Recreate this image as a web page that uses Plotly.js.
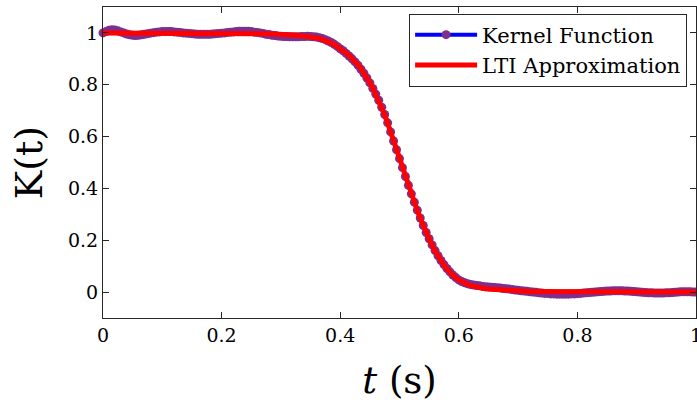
<!DOCTYPE html>
<html>
<head>
<meta charset="utf-8">
<script src="https://cdn.plot.ly/plotly-3.0.1.min.js"></script>
<style>html,body{margin:0;padding:0;background:#fff;}#chart{width:697px;height:407px;}</style>
</head>
<body>
<div id="chart"></div>
<script>
// time samples (s)
const timeS = [0,0.005,0.01,0.015,0.02,0.025,0.03,0.035,0.04,0.045,0.05,0.055,0.06,0.065,0.07,0.075,0.08,0.085,0.09,0.095,
0.1,0.105,0.11,0.115,0.12,0.125,0.13,0.135,0.14,0.145,0.15,0.155,0.16,0.165,0.17,0.175,0.18,0.185,0.19,0.195,
0.2,0.205,0.21,0.215,0.22,0.225,0.23,0.235,0.24,0.245,0.25,0.255,0.26,0.265,0.27,0.275,0.28,0.285,0.29,0.295,
0.3,0.305,0.31,0.315,0.32,0.325,0.33,0.335,0.34,0.345,0.35,0.355,0.36,0.365,0.37,0.375,0.38,0.385,0.39,0.395,
0.4,0.405,0.41,0.415,0.42,0.425,0.43,0.435,0.44,0.445,0.45,0.455,0.46,0.465,0.47,0.475,0.48,0.485,0.49,0.495,
0.5,0.505,0.51,0.515,0.52,0.525,0.53,0.535,0.54,0.545,0.55,0.555,0.56,0.565,0.57,0.575,0.58,0.585,0.59,0.595,
0.6,0.605,0.61,0.615,0.62,0.625,0.63,0.635,0.64,0.645,0.65,0.655,0.66,0.665,0.67,0.675,0.68,0.685,0.69,0.695,
0.7,0.705,0.71,0.715,0.72,0.725,0.73,0.735,0.74,0.745,0.75,0.755,0.76,0.765,0.77,0.775,0.78,0.785,0.79,0.795,
0.8,0.805,0.81,0.815,0.82,0.825,0.83,0.835,0.84,0.845,0.85,0.855,0.86,0.865,0.87,0.875,0.88,0.885,0.89,0.895,
0.9,0.905,0.91,0.915,0.92,0.925,0.93,0.935,0.94,0.945,0.95,0.955,0.96,0.965,0.97,0.975,0.98,0.985,0.99,0.995,1];

// Kernel Function K(t)
const kernelK = [1.000,1.005,1.010,1.012,1.011,1.008,1.004,1.000,0.996,0.993,
0.991,0.990,0.991,0.993,0.995,0.997,0.999,1.001,1.003,1.004,
1.005,1.005,1.005,1.005,1.004,1.003,1.002,1.000,0.999,0.998,
0.997,0.996,0.995,0.995,0.995,0.995,0.995,0.996,0.997,0.998,
0.999,1.000,1.002,1.003,1.004,1.005,1.006,1.006,1.006,1.006,
1.005,1.003,1.002,1.000,0.998,0.995,0.994,0.991,0.990,0.988,
0.987,0.986,0.986,0.985,0.985,0.985,0.985,0.986,0.986,0.987,
0.986,0.985,0.984,0.981,0.978,0.974,0.969,0.963,0.956,0.948,
0.939,0.931,0.921,0.911,0.900,0.888,0.875,0.860,0.844,0.826,
0.807,0.786,0.764,0.740,0.713,0.685,0.653,0.618,0.583,0.549,
0.515,0.480,0.446,0.412,0.379,0.347,0.316,0.286,0.257,0.230,
0.206,0.182,0.160,0.140,0.122,0.106,0.091,0.078,0.066,0.056,
0.047,0.041,0.036,0.032,0.029,0.027,0.025,0.024,0.022,0.021,
0.020,0.019,0.018,0.017,0.016,0.014,0.013,0.012,0.010,0.008,
0.007,0.005,0.004,0.003,0.001,0.000,-0.001,-0.003,-0.004,-0.005,
-0.005,-0.007,-0.007,-0.008,-0.008,-0.008,-0.008,-0.008,-0.007,-0.007,
-0.006,-0.005,-0.004,-0.003,-0.002,-0.001,0.000,0.001,0.002,0.003,
0.004,0.004,0.005,0.005,0.005,0.005,0.004,0.004,0.003,0.002,
0.001,0.000,-0.001,-0.002,-0.003,-0.003,-0.004,-0.004,-0.004,-0.004,
-0.003,-0.003,-0.002,-0.001,0.000,0.001,0.001,0.001,0.001,0.000,0.000];

// LTI Approximation
const ltiApprox = [1.000,1.000,1.000,1.000,1.000,1.000,1.000,1.000,1.000,1.000,
1.000,1.000,1.000,1.000,1.000,1.000,1.000,1.000,1.000,1.000,
1.000,1.000,1.000,1.000,1.000,1.000,1.000,1.000,1.000,1.000,
1.000,1.000,1.000,1.000,1.000,1.000,1.000,1.000,1.000,1.000,
1.000,1.000,1.000,1.000,1.000,1.000,1.000,1.000,1.000,1.000,
1.000,0.999,0.999,0.998,0.998,0.997,0.997,0.996,0.996,0.995,
0.995,0.994,0.994,0.993,0.992,0.991,0.990,0.989,0.988,0.987,
0.985,0.983,0.981,0.978,0.975,0.971,0.966,0.961,0.955,0.948,
0.940,0.932,0.923,0.913,0.902,0.890,0.877,0.862,0.846,0.828,
0.808,0.787,0.764,0.740,0.713,0.684,0.652,0.617,0.582,0.548,
0.514,0.479,0.445,0.411,0.378,0.346,0.315,0.285,0.256,0.229,
0.204,0.180,0.158,0.138,0.120,0.104,0.089,0.076,0.065,0.055,
0.047,0.040,0.034,0.029,0.025,0.022,0.019,0.017,0.015,0.013,
0.012,0.011,0.010,0.009,0.008,0.007,0.006,0.006,0.005,0.004,
0.004,0.003,0.003,0.003,0.002,0.002,0.002,0.001,0.001,0.001,
0.001,0.000,0.000,0.000,0.000,0.000,0.000,0.000,0.000,0.000,
0.000,0.000,0.000,0.000,0.000,0.000,0.000,0.000,0.000,0.000,
0.000,0.000,0.000,0.000,0.000,0.000,0.000,0.000,0.000,0.000,
0.000,0.000,0.000,0.000,0.000,0.000,0.000,0.000,0.000,0.000,
0.000,0.000,0.000,0.000,0.000,0.000,0.000,0.000,0.000,0.000,0.000];

const seriesNames = ['Kernel Function', 'LTI Approximation'];
const tickVals = [0, 0.2, 0.4, 0.6, 0.8, 1];
const tickText = ['0', '0.2', '0.4', '0.6', '0.8', '1'];

const FONT = 'DejaVu Serif';
const AX = '#262626';

const traces = [
  {
    x: timeS, y: kernelK, name: seriesNames[0], type: 'scatter', mode: 'lines+markers',
    line: {color: '#0000ff', width: 4},
    marker: {color: '#7e2f8e', size: 9, line: {width: 0}},
    cliponaxis: false
  },
  {
    x: timeS, y: ltiApprox, name: seriesNames[1], type: 'scatter', mode: 'lines',
    line: {color: '#ff0000', width: 5}
  }
];

const axisCommon = {
  showgrid: false, zeroline: false, showline: true, linecolor: AX, linewidth: 1,
  mirror: 'ticks', ticks: 'inside', ticklen: 6, tickwidth: 1, tickcolor: AX,
  tickfont: {family: FONT, size: 19, color: '#000'},
  tickvals: tickVals, ticktext: tickText, ticklabeloverflow: 'allow'
};

const layout = {
  width: 697, height: 407,
  margin: {l: 103, r: 1, t: 7, b: 89},
  paper_bgcolor: '#fff', plot_bgcolor: '#fff',
  showlegend: true,
  xaxis: Object.assign({}, axisCommon, {
    range: [0, 1],
    title: {text: '<i>t</i> (s)', font: {family: FONT, size: 37, color: '#000'}, standoff: 22}
  }),
  yaxis: Object.assign({}, axisCommon, {
    range: [-0.1, 1.1],
    title: {text: 'K(t)', font: {family: FONT, size: 38, color: '#000'}, standoff: 13}
  }),
  legend: {
    x: 0.985, xanchor: 'right', y: 0.979, yanchor: 'top',
    bgcolor: '#fff', bordercolor: AX, borderwidth: 1,
    font: {family: FONT, size: 21, color: '#000'},
    itemwidth: 62, tracegroupgap: 0
  }
};

Plotly.newPlot('chart', traces, layout, {displayModeBar: false, staticPlot: true});
</script>
</body>
</html>
